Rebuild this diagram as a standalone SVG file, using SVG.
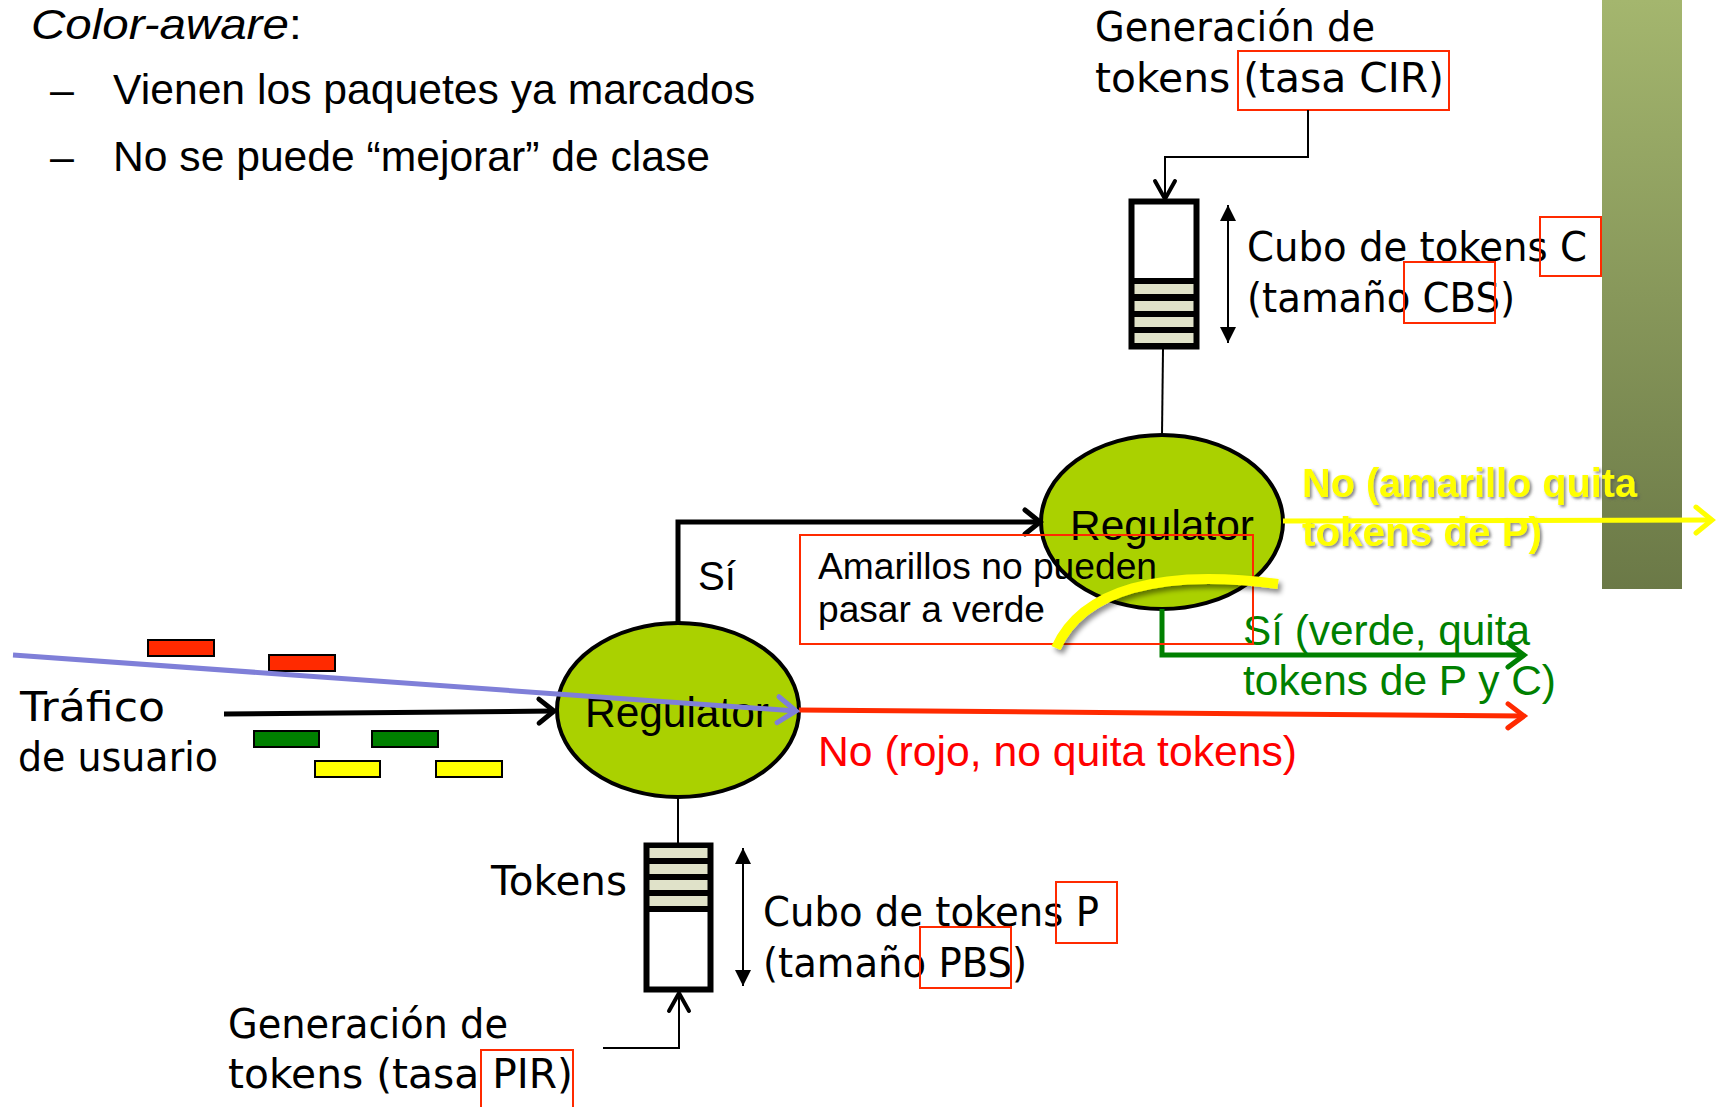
<svg xmlns="http://www.w3.org/2000/svg" width="1720" height="1107" viewBox="0 0 1720 1107">
<style>
.ar{font-family:"Liberation Sans",Arial,sans-serif;}
.cm{font-family:"DejaVu Sans","Noto Sans",sans-serif;font-size:40px;fill:#000;}
.hb{fill:none;stroke:#ff2a00;stroke-width:2;}
.reg{fill:#aad100;stroke:#000;stroke-width:4;}
.reglbl{font-family:"Liberation Sans",Arial,sans-serif;font-size:43px;fill:#000;}
.band{fill:#e0e2c9;}
.pkt{stroke:#000;stroke-width:2;}
</style>
<defs>
<linearGradient id="bar" x1="0" y1="0" x2="0" y2="1">
<stop offset="0" stop-color="#a4b66e"/>
<stop offset="1" stop-color="#6b7947"/>
</linearGradient>
<filter id="sh" x="-20%" y="-40%" width="140%" height="180%">
<feDropShadow dx="3" dy="4" stdDeviation="2.5" flood-color="#000" flood-opacity="0.45"/>
</filter>
<filter id="tsh" x="-10%" y="-30%" width="120%" height="160%">
<feDropShadow dx="2" dy="2" stdDeviation="1.5" flood-color="#555" flood-opacity="0.7"/>
</filter>
<marker id="ah-k" markerUnits="userSpaceOnUse" orient="auto" overflow="visible" markerWidth="1" markerHeight="1" refX="0" refY="0">
<path d="M-15,-12 L0,0 L-15,12" fill="none" stroke="#000" stroke-width="5" stroke-linecap="round"/>
</marker>
<marker id="ah-kt" markerUnits="userSpaceOnUse" orient="auto" overflow="visible" markerWidth="1" markerHeight="1" refX="0" refY="0">
<path d="M-18,-10 L0,0 L-18,10" fill="none" stroke="#000" stroke-width="4" stroke-linecap="round"/>
</marker>
<marker id="ah-r" markerUnits="userSpaceOnUse" orient="auto" overflow="visible" markerWidth="1" markerHeight="1" refX="0" refY="0">
<path d="M-16,-12 L0,0 L-16,12" fill="none" stroke="#ff2a00" stroke-width="5" stroke-linecap="round"/>
</marker>
<marker id="ah-g" markerUnits="userSpaceOnUse" orient="auto" overflow="visible" markerWidth="1" markerHeight="1" refX="0" refY="0">
<path d="M-16,-12 L0,0 L-16,12" fill="none" stroke="#008000" stroke-width="5" stroke-linecap="round"/>
</marker>
<marker id="ah-y" markerUnits="userSpaceOnUse" orient="auto" overflow="visible" markerWidth="1" markerHeight="1" refX="0" refY="0">
<path d="M-16,-13 L0,0 L-16,13" fill="none" stroke="#ffff00" stroke-width="5" stroke-linecap="round"/>
</marker>
<marker id="ah-b" markerUnits="userSpaceOnUse" orient="auto" overflow="visible" markerWidth="1" markerHeight="1" refX="0" refY="0">
<path d="M-18,-13 L0,0 L-18,13" fill="none" stroke="#7f7fd8" stroke-width="5" stroke-linecap="round"/>
</marker>
<marker id="tri" markerUnits="userSpaceOnUse" orient="auto-start-reverse" overflow="visible" markerWidth="1" markerHeight="1" refX="0" refY="0">
<path d="M0,0 L-16,-8 L-16,8 Z" fill="#000"/>
</marker>
</defs>

<rect id="side-bar" x="1602" y="0" width="80" height="589" fill="url(#bar)"/>

<g id="title">
<text class="ar" x="31" y="39" font-size="43" font-style="italic" textLength="271" lengthAdjust="spacingAndGlyphs">Color-aware<tspan font-style="normal">:</tspan></text>
<text class="ar" x="50" y="104" font-size="43">–</text>
<text class="ar" x="113" y="104" font-size="43" textLength="642" lengthAdjust="spacingAndGlyphs">Vienen los paquetes ya marcados</text>
<text class="ar" x="50" y="171" font-size="43">–</text>
<text class="ar" x="113" y="171" font-size="43" textLength="597" lengthAdjust="spacingAndGlyphs">No se puede “mejorar” de clase</text>
</g>

<g id="regulator-C">
<ellipse class="reg" cx="1162" cy="522" rx="121" ry="87"/>
<text class="reglbl" x="1070" y="540" textLength="184" lengthAdjust="spacingAndGlyphs">Regulator</text>
</g>

<g id="regulator-P">
<ellipse class="reg" cx="678" cy="710" rx="121" ry="87"/>
<text class="reglbl" x="585" y="727" textLength="184" lengthAdjust="spacingAndGlyphs">Regulator</text>
</g>

<g id="bucket-C">
<rect x="1131.5" y="201.5" width="65" height="145" fill="#fff" stroke="#000" stroke-width="6"/>
<rect x="1134" y="278" width="60" height="67" fill="#000"/>
<rect class="band" x="1134.5" y="284" width="59" height="10"/>
<rect class="band" x="1134.5" y="301" width="59" height="10"/>
<rect class="band" x="1134.5" y="317" width="59" height="10"/>
<rect class="band" x="1134.5" y="333" width="59" height="10"/>
</g>

<g id="bucket-P">
<rect x="646.5" y="845.5" width="64" height="144" fill="#fff" stroke="#000" stroke-width="6"/>
<rect x="649" y="847" width="59" height="65" fill="#000"/>
<rect class="band" x="649.5" y="848" width="58" height="10"/>
<rect class="band" x="649.5" y="864" width="58" height="10"/>
<rect class="band" x="649.5" y="880" width="58" height="10"/>
<rect class="band" x="649.5" y="896" width="58" height="10"/>
</g>

<g id="packets">
<rect class="pkt" x="148" y="640" width="66" height="16" fill="#ff2a00"/>
<rect class="pkt" x="269" y="655" width="66" height="16" fill="#ff2a00"/>
<rect class="pkt" x="254" y="731" width="65" height="16" fill="#008000"/>
<rect class="pkt" x="372" y="731" width="66" height="16" fill="#008000"/>
<rect class="pkt" x="315" y="761" width="65" height="16" fill="#ffff00"/>
<rect class="pkt" x="436" y="761" width="66" height="16" fill="#ffff00"/>
</g>

<g id="labels">
<text class="cm" x="1095" y="41" textLength="280" lengthAdjust="spacingAndGlyphs">Generación de</text>
<text class="cm" x="1095" y="92" textLength="349" lengthAdjust="spacingAndGlyphs">tokens (tasa CIR)</text>
<text class="cm" x="1247" y="261" textLength="340" lengthAdjust="spacingAndGlyphs">Cubo de tokens C</text>
<text class="cm" x="1247" y="312" textLength="268" lengthAdjust="spacingAndGlyphs">(tamaño CBS)</text>
<text class="cm" x="20" y="721" textLength="145" lengthAdjust="spacingAndGlyphs">Tráfico</text>
<text class="cm" x="18" y="771" textLength="200" lengthAdjust="spacingAndGlyphs">de usuario</text>
<text class="cm" x="491" y="895" textLength="136" lengthAdjust="spacingAndGlyphs">Tokens</text>
<text class="cm" x="763" y="926" textLength="336" lengthAdjust="spacingAndGlyphs">Cubo de tokens P</text>
<text class="cm" x="763" y="977" textLength="264" lengthAdjust="spacingAndGlyphs">(tamaño PBS)</text>
<text class="cm" x="228" y="1038" textLength="280" lengthAdjust="spacingAndGlyphs">Generación de</text>
<text class="cm" x="228" y="1088" textLength="345" lengthAdjust="spacingAndGlyphs">tokens (tasa PIR)</text>
<text class="ar" x="698" y="590" font-size="40" textLength="38" lengthAdjust="spacingAndGlyphs">Sí</text>
<text class="ar" x="818" y="766" font-size="42" fill="#ff0000" textLength="479" lengthAdjust="spacingAndGlyphs">No (rojo, no quita tokens)</text>
<text class="ar" x="1243" y="645" font-size="42" fill="#008000" textLength="287" lengthAdjust="spacingAndGlyphs">Sí (verde, quita</text>
<text class="ar" x="1243" y="695" font-size="42" fill="#008000" textLength="313" lengthAdjust="spacingAndGlyphs">tokens de P y C)</text>
<g filter="url(#tsh)">
<text class="ar" x="1302" y="497" font-size="40" font-weight="bold" fill="#ffff00" textLength="335" lengthAdjust="spacingAndGlyphs">No (amarillo quita</text>
<text class="ar" x="1302" y="546" font-size="40" font-weight="bold" fill="#ffff00" textLength="240" lengthAdjust="spacingAndGlyphs">tokens de P)</text>
</g>
</g>

<g id="highlight-boxes">
<rect class="hb" x="1238" y="51" width="211" height="59"/>
<rect class="hb" x="1540" y="217" width="61" height="59"/>
<rect class="hb" x="1404" y="262" width="91" height="61"/>
<rect class="hb" x="1056" y="882" width="61" height="61"/>
<rect class="hb" x="920" y="927" width="91" height="61"/>
<rect class="hb" x="481" y="1050" width="92" height="60"/>
</g>

<g id="connectors">
<polyline points="1308,110 1308,157 1165,157 1165,199" fill="none" stroke="#000" stroke-width="2" marker-end="url(#ah-kt)"/>
<line x1="1163" y1="349" x2="1162" y2="435" stroke="#000" stroke-width="2"/>
<line x1="1228" y1="205" x2="1228" y2="343" stroke="#000" stroke-width="2" marker-start="url(#tri)" marker-end="url(#tri)"/>
<line x1="678" y1="797" x2="678" y2="843" stroke="#000" stroke-width="2"/>
<line x1="743" y1="848" x2="743" y2="986" stroke="#000" stroke-width="2" marker-start="url(#tri)" marker-end="url(#tri)"/>
<polyline points="603,1048 679,1048 679,993" fill="none" stroke="#000" stroke-width="2" marker-end="url(#ah-kt)"/>
<line x1="224" y1="714" x2="554" y2="711" stroke="#000" stroke-width="5" marker-end="url(#ah-k)"/>
<polyline points="678,623 678,522 1040,522" fill="none" stroke="#000" stroke-width="5" marker-end="url(#ah-k)"/>
<line x1="799" y1="710" x2="1524" y2="716" stroke="#ff2a00" stroke-width="5" marker-end="url(#ah-r)"/>
<polyline points="1162,609 1162,655 1524,655" fill="none" stroke="#008000" stroke-width="5" marker-end="url(#ah-g)"/>
<line x1="1283" y1="521" x2="1712" y2="520" stroke="#ffff00" stroke-width="5" marker-end="url(#ah-y)"/>
<line x1="13" y1="655" x2="796" y2="711" stroke="#7f7fd8" stroke-width="5" marker-end="url(#ah-b)"/>
</g>

<g id="note">
<rect class="hb" x="800" y="535" width="453" height="109"/>
<text class="ar" x="818" y="579" font-size="37" textLength="339" lengthAdjust="spacingAndGlyphs">Amarillos no pueden</text>
<text class="ar" x="818" y="622" font-size="37" textLength="227" lengthAdjust="spacingAndGlyphs">pasar a verde</text>
<path d="M1056,648 C1082,590 1160,568 1278,584" fill="none" stroke="#ffff00" stroke-width="10" filter="url(#sh)"/>
</g>
</svg>
